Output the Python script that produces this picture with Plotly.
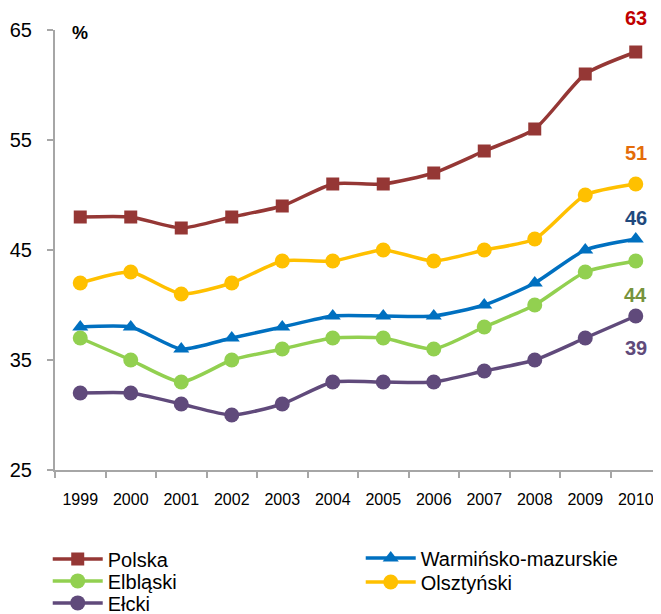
import plotly.graph_objects as go

years = ["1999", "2000", "2001", "2002", "2003", "2004", "2005", "2006", "2007", "2008", "2009", "2010"]
polska = [48, 48, 47, 48, 49, 51, 51, 52, 54, 56, 61, 63]
warminsko = [38, 38, 36, 37, 38, 39, 39, 39, 40, 42, 45, 46]
elblaski = [37, 35, 33, 35, 36, 37, 37, 36, 38, 40, 43, 44]
olsztynski = [42, 43, 41, 42, 44, 44, 45, 44, 45, 46, 50, 51]
elcki = [32, 32, 31, 30, 31, 33, 33, 33, 34, 35, 37, 39]
y_ticks = [25, 35, 45, 55, 65]

FONT = "Liberation Sans, Arial, sans-serif"

series = [
    ("Polska", polska, "#953735", "square", 13, "legend"),
    ("Warmińsko-mazurskie", warminsko, "#0070C0", "triangle-up", 14, "legend2"),
    ("Elbląski", elblaski, "#92D050", "circle", 15, "legend3"),
    ("Olsztyński", olsztynski, "#FFC000", "circle", 15, "legend4"),
    ("Ełcki", elcki, "#604A7B", "circle", 15, "legend5"),
]

fig = go.Figure()
for name, vals, color, sym, size, leg in series:
    fig.add_trace(go.Scatter(
        x=years, y=vals, name=name, mode="lines+markers",
        line=dict(color=color, width=3.5, shape="spline", smoothing=0.6),
        marker=dict(symbol=sym, size=size, color=color),
        cliponaxis=False, legend=leg,
    ))

labels = [
    (polska, "#C00000", 34),
    (olsztynski, "#E46C0A", 31),
    (warminsko, "#1F497D", 21),
    (elblaski, "#77933C", -34),
    (elcki, "#604A7B", -32),
]
last = len(years) - 1
for vals, color, shift in labels:
    fig.add_annotation(x=last, y=vals[-1], text="<b>%d</b>" % vals[-1],
                       showarrow=False, yshift=shift,
                       font=dict(family=FONT, size=20, color=color))

fig.add_annotation(xref="paper", yref="paper", x=0.025, y=1.0, text="<b>%</b>",
                   showarrow=False, xanchor="left", yanchor="middle", yshift=-3,
                   font=dict(family=FONT, size=18, color="#000000"))

legfont = dict(family=FONT, size=20, color="#000000")


def leg(x, y):
    return dict(orientation="v", x=x, y=y, xanchor="left", yanchor="middle",
                font=legfont, itemwidth=50, bgcolor="rgba(0,0,0,0)")


fig.update_layout(
    width=653, height=606,
    margin=dict(l=47, r=0, t=22, b=144, autoexpand=False),
    plot_bgcolor="white", paper_bgcolor="white",
    font=dict(family=FONT, color="#000000"),
    showlegend=True,
    legend=leg(-0.012, -0.202),
    legend3=leg(-0.012, -0.252),
    legend5=leg(-0.012, -0.302),
    legend2=leg(0.5045, -0.200),
    legend4=leg(0.5045, -0.2545),
    xaxis=dict(type="category", range=[-0.5, 11.5], autorange=False,
               showgrid=False, showline=True, linecolor="#A6A6A6",
               linewidth=2, ticks="outside", tickson="boundaries", ticklen=6,
               tickcolor="#A6A6A6", tickwidth=1.5, tickangle=0,
               tickfont=dict(family=FONT, size=16, color="#000000"),
               ticklabelstandoff=14),
    yaxis=dict(range=[25, 65], tickvals=y_ticks, showgrid=False, showline=True,
               linecolor="#A6A6A6", linewidth=2, ticks="outside", ticklen=6,
               tickcolor="#A6A6A6", tickwidth=1.5, zeroline=False,
               tickfont=dict(family=FONT, size=20, color="#000000"),
               ticklabelstandoff=11),
)

fig.write_html("out.html")
